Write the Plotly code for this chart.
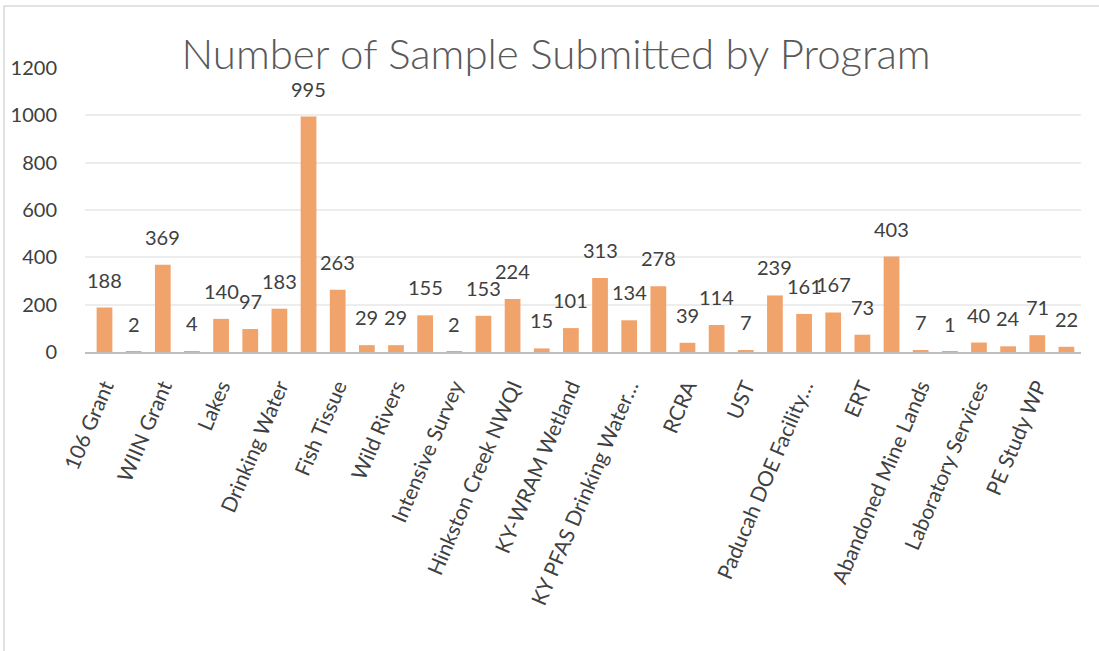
import plotly.graph_objects as go

# Visible category labels (every other category is labelled on the axis)
labelled_programs = [
    "106 Grant", "WIIN Grant", "Lakes", "Drinking Water", "Fish Tissue",
    "Wild Rivers", "Intensive Survey", "Hinkston Creek NWQI", "KY-WRAM Wetland",
    "KY PFAS Drinking Water…", "RCRA", "UST", "Paducah DOE Facility…", "ERT",
    "Abandoned Mine Lands", "Laboratory Services", "PE Study WP",
]
# Categories whose axis labels are hidden in the original (names not shown)
unlabelled_programs = ["Unlabelled program %d" % (i + 1) for i in range(17)]

samples = [
    188, 2, 369, 4, 140, 97, 183, 995, 263, 29, 29, 155, 2, 153, 224, 15, 101,
    313, 134, 278, 39, 114, 7, 239, 161, 167, 73, 403, 7, 1, 40, 24, 71, 22,
]

y_ticks = [0, 200, 400, 600, 800, 1000, 1200]

categories = []
for a, b in zip(labelled_programs, unlabelled_programs):
    categories += [a, b]

FONT = "Lato"
TXT = "#404040"

fig = go.Figure()
fig.add_trace(go.Bar(
    x=categories, y=samples,
    marker=dict(color="#F1A36C", line=dict(width=0)),
    hoverinfo="x+y",
))

annotations = []
for c, v in zip(categories, samples):
    annotations.append(dict(
        x=c, y=v, xref="x", yref="y", text=str(v), showarrow=False,
        yanchor="bottom", yshift=14, font=dict(family=FONT, size=20, color=TXT),
    ))

L, R, T, B = 85, 18, 68, 299
W, H = 1099, 651
pw, ph = W - L - R, H - T - B

def px_x(px):
    return (px - L) / pw

def px_y(py):
    return (H - B - py) / ph

fig.update_layout(
    width=W, height=H,
    margin=dict(l=L, r=R, t=T, b=B),
    paper_bgcolor="white", plot_bgcolor="white",
    bargap=0.46,
    showlegend=False,
    title=dict(
        text="Number of Sample Submitted by Program",
        x=556 / W, xanchor="center", xref="container",
        y=1 - 54 / H, yanchor="middle", yref="container",
        font=dict(family=FONT, size=42, color="#595959", weight=300),
    ),
    annotations=annotations,
    shapes=[dict(
        type="rect", xref="paper", yref="paper",
        x0=px_x(4), x1=px_x(1102), y0=px_y(654), y1=px_y(6),
        line=dict(color="#D9D9D9", width=1.5), fillcolor="rgba(0,0,0,0)",
        layer="below",
    )],
    xaxis=dict(
        type="category",
        categoryorder="array", categoryarray=categories,
        tickmode="array", tickvals=labelled_programs, ticktext=labelled_programs,
        tickangle=-67,
        ticks="outside", ticklen=12, tickcolor="rgba(0,0,0,0)",
        tickfont=dict(family=FONT, size=21, color=TXT),
        showline=True, linecolor="#BFBFBF", linewidth=2,
        showgrid=False, zeroline=False,
    ),
    yaxis=dict(
        range=[0, 1200],
        tickmode="array", tickvals=y_ticks,
        ticks="outside", ticklen=23, tickcolor="rgba(0,0,0,0)",
        tickfont=dict(family=FONT, size=20, color=TXT),
        showgrid=True, gridcolor="#EDEDED", gridwidth=1.5,
        zeroline=False, showline=False,
    ),
)

fig.write_html(
    "out.html",
    config={"displayModeBar": False},
    post_script="document.body.style.margin='0';",
)
